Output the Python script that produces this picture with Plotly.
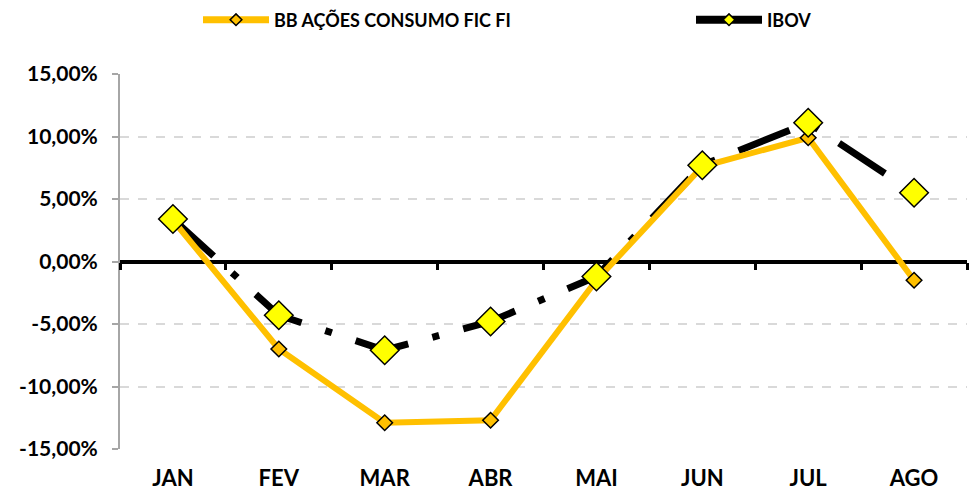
import plotly.graph_objects as go

months = ["JAN", "FEV", "MAR", "ABR", "MAI", "JUN", "JUL", "AGO"]
bb_fund = [3.3, -7.0, -12.9, -12.7, -1.5, 7.6, 9.9, -1.5]
ibov = [3.4, -4.3, -7.1, -4.8, -1.2, 7.7, 11.1, 5.5]
y_ticks = [-15, -10, -5, 0, 5, 10, 15]
y_tick_labels = ["-15,00%", "-10,00%", "-5,00%", "0,00%", "5,00%", "10,00%", "15,00%"]
boundaries = [i - 0.5 for i in range(len(months) + 1)]

xs = list(range(len(months)))
FONT = "Lato"
ORANGE = "#FFC000"
YELLOW = "#FFFF00"
W, H = 971, 486  # page body adds an 8px margin
ibov_line = dict(color="black", width=7, dash="55px,25px,7px,25px")

fig = go.Figure()
# IBOV line (under)
fig.add_trace(go.Scatter(x=xs, y=ibov, mode="lines", line=ibov_line,
                         showlegend=False, hoverinfo="skip"))
# BB fund
fig.add_trace(go.Scatter(x=xs, y=bb_fund, mode="lines+markers",
                         line=dict(color=ORANGE, width=6),
                         marker=dict(symbol="diamond", size=12, color=ORANGE,
                                     line=dict(color="black", width=1.5)),
                         showlegend=False))
# IBOV markers (top)
fig.add_trace(go.Scatter(x=xs, y=ibov, mode="markers",
                         marker=dict(symbol="diamond", size=22, color=YELLOW,
                                     line=dict(color="black", width=1.5)),
                         showlegend=False))
# legend entries
fig.add_trace(go.Scatter(x=[None], y=[None], mode="lines+markers", name="BB AÇÕES CONSUMO FIC FI",
                         legend="legend",
                         line=dict(color=ORANGE, width=7),
                         marker=dict(symbol="diamond", size=9, color=ORANGE,
                                     line=dict(color="black", width=1.5))))
fig.add_trace(go.Scatter(x=[None], y=[None], mode="lines+markers", name="IBOV",
                         legend="legend2",
                         line=dict(color="black", width=8),
                         marker=dict(symbol="diamond", size=9, color=YELLOW,
                                     line=dict(color="black", width=1.5))))
# helper trace for the zero-crossing category axis
fig.add_trace(go.Scatter(x=[None], y=[None], xaxis="x2", showlegend=False, hoverinfo="skip"))

legend_common = dict(orientation="h", xanchor="left", yanchor="middle",
                     xref="container", yref="container",
                     font=dict(family=FONT, size=18, color="black", weight="bold"),
                     itemwidth=66, bgcolor="rgba(0,0,0,0)")

fig.update_layout(
    width=W, height=H,
    margin=dict(l=112, r=12, t=66, b=45, autoexpand=False),
    paper_bgcolor="white", plot_bgcolor="white",
    font=dict(family=FONT, size=19, color="black"),
    showlegend=True,
    legend=dict(x=190 / W, y=1 - 12 / H, **legend_common),
    legend2=dict(x=683 / W, y=1 - 12 / H, **legend_common),
    xaxis=dict(range=[-0.5, len(months) - 0.5], tickvals=xs, ticktext=months,
               showgrid=False, zeroline=False, showline=False, ticks="",
               automargin=False,
               tickfont=dict(family=FONT, size=22, color="black", weight="bold"),
               ticklabelstandoff=14),
    xaxis2=dict(range=[-0.5, len(months) - 0.5], overlaying="x", anchor="free",
                position=0.5, tickvals=boundaries, showticklabels=False,
                ticks="outside", ticklen=7, tickwidth=3, tickcolor="black",
                automargin=False,
                showgrid=False, zeroline=False, showline=False),
    yaxis=dict(range=[-15, 15], tickvals=y_ticks, ticktext=y_tick_labels,
               showgrid=True, gridcolor="#D9D9D9", griddash="dash", gridwidth=1.5,
               zeroline=True, zerolinecolor="black", zerolinewidth=4,
               showline=True, linecolor="#A6A6A6", linewidth=2,
               ticks="outside", ticklen=6, tickcolor="#A6A6A6", tickwidth=1.5,
               automargin=False,
               tickfont=dict(family=FONT, size=21, color="black", weight="bold"),
               ticklabelstandoff=10),
)

fig.write_html("out.html")
